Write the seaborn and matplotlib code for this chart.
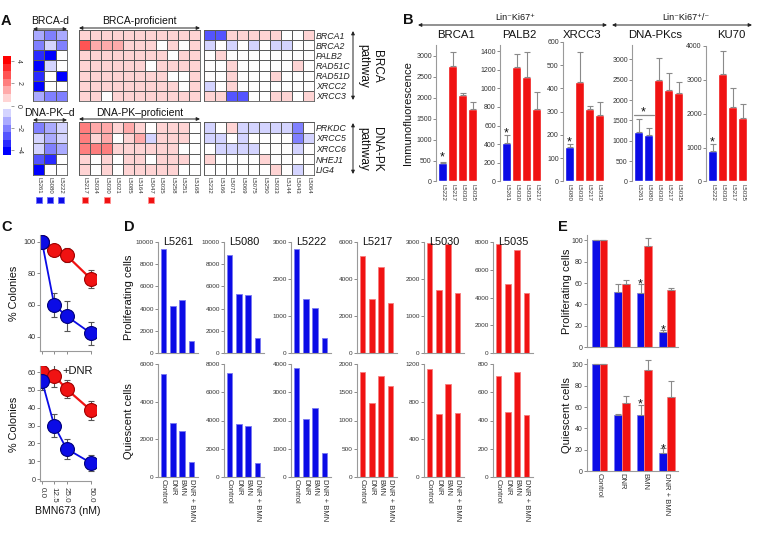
import numpy as np
import pandas as pd
import matplotlib
matplotlib.use("Agg")
import matplotlib.pyplot as plt
from matplotlib.colors import ListedColormap, to_rgb
from matplotlib.transforms import blended_transform_factory
import seaborn as sns

# ---------------- data ----------------
# panel A: expression z-scores
genes_brca = ["BRCA1", "BRCA2", "PALB2", "RAD51C", "RAD51D", "XRCC2", "XRCC3"]
genes_dnapk = ["PRKDC", "XRCC5", "XRCC6", "NHEJ1", "LIG4"]
lines_def = ["L5261", "L5080", "L5222"]
lines_prof = ["L5217", "L5034", "L5030", "L5021", "L5085", "L5164", "L5047",
              "L5035", "L5258", "L5251", "L5168"]
lines_other = ["L5232", "L5166", "L5071", "L5069", "L5075", "L5250", "L5033",
               "L5144", "L5043", "L5064"]

brca_def = [[-1.5, -2, -1.5], [-2, -1, -2], [-3.2, -3.8, 0], [-4, -0.8, 0],
            [-3.5, 0, -3.8], [-4, 0, 0], [-1.5, -2, -2]]
brca_prof = [[0.7, 0.7, 0.7, 0.7, 0.7, 0.7, 0.7, 0.7, 0.7, 0.7, 0.7],
             [2.8, 1.4, 1.4, 1.4, 0.7, 0.7, 0.7, 0, 0.7, 0, 0.7],
             [0.7, 0.7, 0.7, 0.7, 0.7, 0.7, 0.7, 0.7, 0, 0.7, 0.7],
             [0.7, 0.7, 0.7, 0.7, 0.7, 0.7, 0, 0.7, 0.7, 0.7, 0.7],
             [0.7, 0.7, 0.7, 0.7, 0.7, 0.7, 0.7, 0.7, 0, 0, 0.7],
             [0.7, 0.7, 0.7, 0.7, 0.7, 0.7, 0.7, 0.7, 0.7, 0, 0.7],
             [0.7, 0.7, 0, 0.7, 0.7, 0.7, 0.7, 0.7, 0.7, 0.7, 0.7]]
brca_other = [[-2.5, -2.5, 0.7, 0.7, 0.7, 0.7, 0.7, 0, 0, 0.7],
              [-1, 0, -0.7, 0, -0.7, 0, -0.7, -0.7, 0, 0],
              [0, 0.7, 0, 0, 0, 0, 0, 0, 0, 0],
              [0, 0, 0.7, 0, 0, 0, 0, 0, 0.7, 0],
              [0, 0, 0.7, 0, 0, 0, 0.7, 0, 0, 0],
              [-0.7, 0, 0.7, 0, 0, 0, 0, 0, 0, 0],
              [0.7, 0.7, -2.5, -2.5, 0, 0, 0.7, 0.7, 0, 0.7]]
dnapk_def = [[-2.2, -1.5, -1], [-1, -1.5, -0.7], [-0.7, -1.8, -1.5],
             [-3, -3.5, 0], [-4, 0, 0]]
dnapk_prof = [[2, 1.3, 1.3, 1, 1.5, 0.7, 0, 0.7, 0.7, 0.7, 0],
              [2.2, 0.7, 1.2, 0, 0.7, 1.2, -0.7, 0.7, 0.7, 0.7, 0],
              [1.8, 1.8, 1.8, 0.7, 0.7, 0.7, 0.7, 0.7, 0.7, 0, 0],
              [0.7, 0, 0.7, 0, 0.7, 0.7, 0, 0.7, 0.7, 0.7, 0],
              [1, 0, 1, 0, 0.7, 0.7, 0.7, 0.7, 0.7, 0, 0]]
dnapk_other = [[-0.7, 0, 0.7, -0.7, -0.7, -0.7, -0.7, -0.7, -1.8, 0],
               [-0.7, -0.7, 0, -0.7, 0, 0, 0, 0, -2, -0.7],
               [0, -0.7, -0.7, -0.7, -0.7, 0, 0, 0, -0.7, 0],
               [0.7, 0, 0, 0, 0, 0.7, 0, 0, 0, 0],
               [0, 0, 0, 0, 0, 0, 0.7, 0, -0.7, 0]]
marked_blue = ["L5261", "L5080", "L5222"]
marked_red = ["L5217", "L5030", "L5047"]

# panel B: immunofluorescence
b_titles = ["BRCA1", "PALB2", "XRCC3", "DNA-PKcs", "KU70"]
b_lines = [["L5222", "L5217", "L5030", "L5035"],
           ["L5261", "L5030", "L5035", "L5217"],
           ["L5080", "L5030", "L5217", "L5035"],
           ["L5261", "L5080", "L5030", "L5217", "L5035"],
           ["L5222", "L5030", "L5217", "L5035"]]
b_vals = [[430, 2770, 2060, 1720], [410, 1230, 1120, 780], [150, 430, 312, 287],
          [1220, 1140, 2500, 2250, 2180], [900, 3170, 2200, 1870]]
b_errs = [[30, 320, 60, 180], [85, 140, 275, 180], [10, 128, 14, 56],
          [320, 180, 520, 420, 250], [220, 680, 550, 430]]
b_nblue = [1, 1, 1, 2, 1]

# panel C: colony assay
doses = [0, 12.5, 25, 50]
c_red = [100, 95, 91.5, 76.5]
c_red_err = [3, 1.5, 4.5, 5.5]
c_blue = [100, 60, 53, 42]
c_blue_err = [2, 7.5, 9.5, 7.5]
c_red_dnr = [60, 58, 50.5, 38.5]
c_red_dnr_err = [3, 6.5, 5, 5.5]
c_blue_dnr = [55, 30, 17, 9]
c_blue_dnr_err = [5, 6.5, 5.5, 4.5]

# panel D: cell counts per line
d_lines = ["L5261", "L5080", "L5222", "L5217", "L5030", "L5035"]
treatments = ["Control", "DNR", "BMN", "DNR + BMN"]
d_prolif = [[9400, 4230, 4750, 1080], [8800, 5300, 5220, 1350],
            [2810, 1460, 1220, 405], [5240, 2920, 4650, 2700],
            [2970, 1700, 2945, 1620], [7850, 4960, 7410, 4310]]
d_quies = [[5470, 2870, 2440, 800], [7360, 3750, 3610, 990],
           [3860, 2050, 2440, 850], [1860, 1310, 1790, 1610],
           [1147, 670, 988, 680], [714, 457, 743, 436]]

# panel E: normalised to control
e_prolif_blue = [100, 52, 51, 14]
e_prolif_blue_err = [0, 7, 8, 2]
e_prolif_red = [100, 59, 95, 53.5]
e_prolif_red_err = [0, 4, 7, 1.5]
e_quies_blue = [100, 52.3, 52.3, 16.5]
e_quies_blue_err = [0, 1, 10, 5]
e_quies_red = [100, 64, 95, 69]
e_quies_red_err = [0, 6, 9.5, 15]

# ---------------- style ----------------
sns.set_style("ticks")
plt.rcParams["font.family"] = ["Liberation Sans", "DejaVu Sans"]
BLUE = "#0b0be6"
RED = "#f01212"
SPINE = "#9a9a9a"
TXT = "#333333"

W, H = 764, 558
fig = plt.figure(figsize=(W / 100, H / 100), dpi=100)


def px_axes(x0, y0, x1, y1):
    return fig.add_axes([x0 / W, 1 - y1 / H, (x1 - x0) / W, (y1 - y0) / H])


def lighten(c, f=0.5):
    r, g, b = to_rgb(c)
    return (r + (1 - r) * f, g + (1 - g) * f, b + (1 - b) * f)


def style_axes(ax, bottom=True, ysize=5):
    sns.despine(ax=ax)
    ax.spines["left"].set_color(SPINE)
    ax.spines["left"].set_linewidth(0.8)
    if bottom:
        ax.spines["bottom"].set_color(SPINE)
        ax.spines["bottom"].set_linewidth(0.8)
    else:
        ax.spines["bottom"].set_visible(False)
    ax.tick_params(axis="y", labelsize=ysize, length=2, width=0.6, color="#777777",
                   labelcolor=TXT, pad=1)
    ax.tick_params(axis="x", length=0, labelcolor=TXT, pad=1.5)
    ax.set_xlabel("")
    ax.set_ylabel("")
    ax.set_facecolor("none")


def star(ax, x, y, size=9):
    ax.annotate("*", xy=(x, y), xytext=(0, -0.58 * size), textcoords="offset points",
                ha="center", va="baseline", fontsize=size, color="#111111")


# ---------------- panel A ----------------
cmap = ListedColormap(plt.cm.bwr(np.linspace(0, 1, 13)))
hm_x = [(33, 67), (79, 200), (204, 314)]
hm_y = [(30, 101), (122, 175)]
line_groups = [lines_def, lines_prof, lines_other]
rows = [(genes_brca, [brca_def, brca_prof, brca_other]),
        (genes_dnapk, [dnapk_def, dnapk_prof, dnapk_other])]
mesh = None
for r, (genes, blocks) in enumerate(rows):
    for c, (cols, vals) in enumerate(zip(line_groups, blocks)):
        ax = px_axes(hm_x[c][0], hm_y[r][0], hm_x[c][1], hm_y[r][1])
        df = pd.DataFrame(vals, index=genes, columns=cols)
        sns.heatmap(df, ax=ax, cmap=cmap, vmin=-4.4, vmax=4.4, cbar=False,
                    linewidths=0.6, linecolor="#5a5a5a",
                    xticklabels=(r == 1), yticklabels=(c == 2))
        mesh = ax.collections[0]
        for s in ax.spines.values():
            s.set_visible(True)
            s.set_color("#5a5a5a")
            s.set_linewidth(0.6)
        ax.tick_params(length=0, pad=1.5)
        if c == 2:
            ax.yaxis.tick_right()
            for t in ax.get_yticklabels():
                t.set_rotation(0)
                t.set_fontsize(6.3)
                t.set_style("italic")
                t.set_color("#222222")
        if r == 1:
            for t in ax.get_xticklabels():
                t.set_rotation(270)
                t.set_fontsize(4.3)
                t.set_color(TXT)
            trans = blended_transform_factory(ax.transData, ax.transAxes)
            bx = [i + 0.5 for i, n in enumerate(cols) if n in marked_blue]
            rx = [i + 0.5 for i, n in enumerate(cols) if n in marked_red]
            if bx:
                ax.scatter(bx, [-0.47] * len(bx), marker="s", s=22, color=BLUE,
                           edgecolor="#7070ff", linewidth=0.6, transform=trans, clip_on=False)
            if rx:
                ax.scatter(rx, [-0.47] * len(rx), marker="s", s=22, color=RED,
                           edgecolor="#ff9090", linewidth=0.6, transform=trans, clip_on=False)

cax = px_axes(3, 56, 11, 155)
cb = fig.colorbar(mesh, cax=cax)
cb.set_ticks([4, 2, 0, -2, -4])
cb.outline.set_visible(False)
cax.tick_params(labelsize=5, length=2, width=0.5, color="#777777", labelcolor=TXT, pad=1)
for t in cax.get_yticklabels():
    t.set_rotation(270)
    t.set_va("center")

# ---------------- panel B ----------------
b_x = [(436, 478), (500, 542), (563, 605), (632, 684), (706, 748)]
b_top = [45, 45, 42, 45, 46]
b_ymax = [3260, 1465, 600, 3350, 4000]
b_step = [500, 200, 100, 500, 1000]
b_star = [680, 560, 185, 1790, 1270]
for i in range(5):
    ax = px_axes(b_x[i][0], b_top[i], b_x[i][1], 181.5)
    labels, vals, errs = b_lines[i], b_vals[i], b_errs[i]
    n = len(vals)
    cols = [BLUE] * b_nblue[i] + [RED] * (n - b_nblue[i])
    sns.barplot(x=labels, y=vals, hue=labels, palette=dict(zip(labels, cols)),
                legend=False, width=0.92, saturation=1, errorbar=None, ax=ax)
    ax.errorbar(np.arange(n), vals, yerr=[np.zeros(n), errs], fmt="none",
                ecolor="#8a8a8a", elinewidth=0.8, capsize=2, capthick=0.8)
    ax.set_xlim(-0.65, n - 0.45)
    ax.set_ylim(0, b_ymax[i])
    ax.set_yticks(np.arange(0, b_ymax[i] + 1, b_step[i]))
    style_axes(ax, bottom=False, ysize=5)
    for t in ax.get_xticklabels():
        t.set_rotation(270)
        t.set_fontsize(4.4)
    if b_nblue[i] == 2:
        ax.plot([-0.5, 1.5], [1640, 1640], color="#8a8a8a", lw=0.9)
        star(ax, 0.5, b_star[i])
    else:
        star(ax, 0, b_star[i])

# ---------------- panel C ----------------
c_panels = [((40, 235, 96, 351), (30.8, 104.4), [40, 60, 80, 100],
             c_red, c_red_err, c_blue, c_blue_err),
            ((40, 366, 96, 481), (-1.1, 63.4), [0, 10, 20, 30, 40, 50, 60],
             c_red_dnr, c_red_dnr_err, c_blue_dnr, c_blue_dnr_err)]
for k, (box, ylim, yt, rv, re, bv, be) in enumerate(c_panels):
    ax = px_axes(*box)
    for v, e, col, edge, lw in [(rv, re, RED, "#a00000", 1.6), (bv, be, BLUE, "#00007a", 1.3)]:
        ax.errorbar(doses, v, yerr=e, fmt="none", ecolor="#555555", elinewidth=0.8,
                    capsize=2.5, capthick=0.8, zorder=1)
        sns.lineplot(x=doses, y=v, ax=ax, color=col, lw=lw, marker="o", markersize=10,
                     markeredgecolor=edge, markeredgewidth=0.8, zorder=2)
    ax.set_xlim(-2.04, 55.1)
    ax.set_ylim(*ylim)
    ax.set_yticks(yt)
    ax.set_xticks(doses)
    style_axes(ax, ysize=5.2)
    ax.spines["bottom"].set_bounds(-2.04, 50.5)
    ax.tick_params(axis="x", length=2.5, width=0.6, color="#777777")
    if k == 0:
        ax.set_xticklabels([])
    else:
        ax.set_xticklabels(["0.0", "12.5", "25.0", "50.0"], rotation=270, fontsize=5.8)

# ---------------- panel D ----------------
d_x0 = [158, 224, 291, 357, 424, 493]
d_rows = [((242, 353), d_prolif, [10000, 10000, 3000, 6000, 3000, 8000],
           [2000, 2000, 1000, 2000, 1000, 2000]),
          ((364, 477), d_quies, [6000, 8000, 4000, 2000, 1200, 800],
           [2000, 2000, 1000, 500, 400, 200])]
for r, ((y0, y1), data, ymaxs, steps) in enumerate(d_rows):
    for j in range(6):
        ax = px_axes(d_x0[j], y0, d_x0[j] + 40, y1)
        col = BLUE if j < 3 else RED
        sns.barplot(x=treatments, y=data[j], color=col, saturation=1, width=0.62,
                    errorbar=None, ax=ax, edgecolor=lighten(col, 0.45), linewidth=0.6)
        ax.set_xlim(-0.6, 3.7)
        ax.set_ylim(0, ymaxs[j])
        ax.set_yticks(np.arange(0, ymaxs[j] + 1, steps[j]))
        style_axes(ax, ysize=4.6)
        if r == 0:
            ax.set_xticklabels([])
        else:
            for t in ax.get_xticklabels():
                t.set_rotation(270)
                t.set_fontsize(5.5)

# ---------------- panel E ----------------
e_rows = [((235, 347), e_prolif_blue, e_prolif_blue_err, e_prolif_red, e_prolif_red_err,
           [(2, 63), (3, 19.5)]),
          ((359, 471), e_quies_blue, e_quies_blue_err, e_quies_red, e_quies_red_err,
           [(2, 66), (3, 24)])]
for r, ((y0, y1), bv, be, rv, re, stars) in enumerate(e_rows):
    ax = px_axes(587, y0, 678, y1)
    df = pd.DataFrame({"treat": treatments * 2, "val": bv + rv,
                       "group": ["blue"] * 4 + ["red"] * 4})
    sns.barplot(data=df, x="treat", y="val", hue="group", hue_order=["blue", "red"],
                palette={"blue": BLUE, "red": RED}, width=0.7, saturation=1,
                errorbar=None, legend=False, ax=ax)
    for p in ax.patches:
        p.set_edgecolor(lighten(p.get_facecolor()[:3], 0.45))
        p.set_linewidth(0.6)
    xs = np.arange(4)
    for off, v, e in [(-0.175, bv, be), (0.175, rv, re)]:
        ax.errorbar(xs + off, v, yerr=[np.zeros(4), e], fmt="none", ecolor="#8a8a8a",
                    elinewidth=0.8, capsize=2, capthick=0.8)
    for gi, yv in stars:
        star(ax, gi - 0.175, yv)
    ax.set_xlim(-0.556, 3.49)
    ax.set_ylim(0, 105)
    ax.set_yticks(range(0, 101, 20))
    style_axes(ax, ysize=5)
    if r == 0:
        ax.set_xticklabels([])
    else:
        for t in ax.get_xticklabels():
            t.set_rotation(270)
            t.set_fontsize(5.5)

# ---------------- overlay text & arrows ----------------
ov = fig.add_axes([0, 0, 1, 1], zorder=20)
ov.set_xlim(0, W)
ov.set_ylim(H, 0)
ov.axis("off")
ov.patch.set_alpha(0)


def darrow(x0, y0, x1, y1):
    ov.annotate("", xy=(x1, y1), xytext=(x0, y0),
                arrowprops=dict(arrowstyle="<|-|>", lw=0.7, color="#222222",
                                shrinkA=0, shrinkB=0, mutation_scale=5))


def txt(x, y, s, size, **kw):
    kw.setdefault("ha", "center")
    kw.setdefault("va", "center")
    ov.text(x, y, s, fontsize=size, color="#111111", **kw)


for x, y, s in [(6, 21, "A"), (408, 20, "B"), (7, 227, "C"), (129, 227, "D"), (563, 227, "E")]:
    txt(x, y, s, 10.5, fontweight="bold")

txt(50, 21, "BRCA-d", 7.5)
darrow(33, 29, 67, 29)
txt(139, 21, "BRCA-proficient", 7.5)
darrow(79, 28, 200, 28)
txt(49, 113, "DNA-PK\u2013d", 7.5)
darrow(33, 120, 67, 120)
txt(140, 113, "DNA-PK\u2013proficient", 7.5)
darrow(79, 119, 200, 119)
darrow(353, 31, 353, 100)
txt(370, 66, "BRCA\npathway", 8.5, rotation=270, linespacing=1.15)
darrow(353, 123, 353, 174)
txt(370, 149, "DNA-PK\npathway", 8.5, rotation=270, linespacing=1.15)

txt(515, 18, "Lin\u207bKi67\u207a", 6.5)
darrow(418, 25, 607, 25)
txt(686, 18, "Lin\u207bKi67\u207a/\u207b", 6.5)
darrow(612, 25, 752, 25)
for cx, t in zip([456, 519, 582, 655, 731], b_titles):
    txt(cx, 35, t, 8.2)
txt(408, 113, "Immunofluorescence", 8, rotation=90)

txt(14, 293, "% Colonies", 7.8, rotation=90)
txt(14, 424, "% Colonies", 7.8, rotation=90)
txt(78, 371, "+DNR", 8)
txt(68, 511, "BMN673 (nM)", 7.6)

for x0, name in zip(d_x0, d_lines):
    txt(x0 + 5, 242, name, 7.8, ha="left")
txt(129, 297, "Proliferating cells", 8, rotation=90)
txt(129, 421, "Quiescent cells", 8, rotation=90)
txt(567, 291, "Proliferating cells", 8, rotation=90)
txt(567, 415, "Quiescent cells", 8, rotation=90)

fig.savefig("out.png", dpi=100)
